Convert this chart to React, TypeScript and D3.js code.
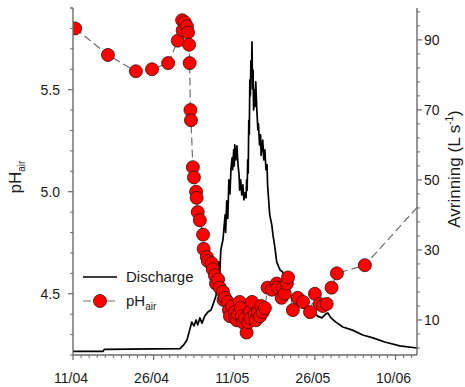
import React from "react";
import * as d3 from "d3";

// x tick labels (dd/mm) and their day offsets from 11/04
const xTickLabels = ["11/04", "26/04", "11/05", "26/05", "10/06"];
const xTickDays = [0, 15, 30, 45, 60];
const leftTicks = [4.5, 5.0, 5.5];
const rightTicks = [10, 30, 50, 70, 90];

// Discharge (L s-1): [day offset from 11/04, value]
const dischargeSeries: [number, number][] = [
  [0, 1.05], [5.6, 1.05], [5.8, 1.6], [19.9, 1.8], [20.6, 2.9], [21.2, 4.3], [21.7, 7.1],
  [22.1, 9.4], [22.5, 8.3], [22.9, 10], [23.2, 8.6], [23.6, 10.6], [24.0, 9.1], [24.5, 11.1],
  [25.1, 12.3], [25.7, 12.9], [26.2, 15.1], [26.6, 16.9], [26.8, 20], [27.1, 26.6], [27.3, 22.9],
  [27.5, 30], [27.9, 32.9], [28.3, 40], [28.4, 35], [28.6, 44], [28.8, 39], [29.0, 50], [29.2, 46],
  [29.4, 53.4], [29.6, 56.3], [29.7, 52.9], [29.9, 58.6], [30.0, 54], [30.1, 60], [30.3, 55.7],
  [30.5, 59.7], [30.7, 54.3], [30.9, 51.4], [31.0, 47.1], [31.2, 50], [31.4, 45.7], [31.6, 48.6],
  [31.8, 44.3], [32.0, 46.3], [32.2, 44.9], [32.3, 50], [32.4, 47], [32.5, 55.7], [32.6, 52],
  [32.7, 67], [32.8, 63], [32.9, 78.6], [33.0, 74], [33.1, 84], [33.2, 80], [33.3, 89.4],
  [33.4, 76], [33.5, 81.4], [33.6, 70], [33.8, 75.7], [33.9, 71], [34.0, 78], [34.2, 70],
  [34.4, 64.3], [34.5, 66], [34.7, 60], [34.9, 62.9], [35.0, 57], [35.1, 58.6], [35.3, 61.4],
  [35.5, 55.7], [35.7, 58.6], [35.9, 52.9], [36.1, 54.3], [36.2, 48.6], [36.4, 44.3], [36.6, 40],
  [37.0, 37], [37.2, 34.3], [37.5, 31.4], [37.9, 26.6], [38.5, 24.3], [39.0, 23.7], [39.4, 22],
  [40.0, 18.6], [40.7, 16.3], [41.4, 14.9], [42.8, 13.4], [44.6, 12.3], [45.5, 11.1], [46.3, 10.6],
  [47.0, 11.7], [47.4, 12], [48.0, 10.6], [48.9, 9.4], [50.2, 8], [52.0, 7.1], [53.9, 5.7],
  [55.8, 4.9], [58.0, 3.7], [60.8, 2.6], [64, 2.0],
];

// pH of air: [day offset from 11/04, value]
const phSeries: [number, number][] = [
  [0.4, 5.80], [6.5, 5.67], [11.7, 5.59], [14.7, 5.60], [17.7, 5.63], [19.5, 5.74],
  [20.3, 5.84], [20.4, 5.79], [20.8, 5.83], [21.2, 5.81], [21.4, 5.78], [21.6, 5.72],
  [21.7, 5.63], [21.85, 5.40], [21.95, 5.35], [22.3, 5.12], [22.5, 5.07], [22.9, 5.00],
  [23.0, 4.97], [23.2, 4.90], [23.6, 4.86], [24.2, 4.79], [24.3, 4.72], [24.9, 4.68],
  [25.1, 4.66], [25.8, 4.65], [26.0, 4.62], [26.4, 4.59], [26.6, 4.55], [27.0, 4.57],
  [27.3, 4.53], [27.9, 4.51], [28.0, 4.47], [28.3, 4.48], [28.8, 4.46], [29.0, 4.42],
  [29.2, 4.39], [29.6, 4.44], [30.1, 4.41], [30.15, 4.38], [30.5, 4.37], [30.7, 4.40],
  [31.0, 4.46], [31.2, 4.43], [31.4, 4.39], [31.6, 4.36], [32.0, 4.38], [32.3, 4.31],
  [32.6, 4.36], [32.9, 4.41], [33.0, 4.38], [33.3, 4.46], [33.8, 4.40], [34.0, 4.37],
  [34.4, 4.41], [34.8, 4.39], [35.0, 4.44], [35.3, 4.41], [35.7, 4.43], [36.2, 4.53],
  [37.0, 4.52], [37.9, 4.55], [38.1, 4.53], [38.8, 4.48], [39.0, 4.53], [39.4, 4.50],
  [39.8, 4.55], [40.0, 4.58], [40.9, 4.42], [41.8, 4.48], [42.8, 4.46], [44.1, 4.41],
  [45.0, 4.50], [45.9, 4.45], [46.5, 4.44], [47.2, 4.45], [48.1, 4.53], [49.1, 4.60],
  [54.3, 4.64], [67.0, 5.01],
];

const FONT = "'Liberation Sans', Arial, Helvetica, sans-serif";
const base = Date.UTC(2013, 3, 11);
const toDate = (d: number) => new Date(base + d * 864e5);

export default function App() {
  const left = 73, right = 417, top = 8, bottom = 355;
  const x = d3.scaleUtc().domain([toDate(0), toDate(64)]).range([left, right]);
  const yL = d3.scaleLinear().domain([4.2, 5.9]).range([bottom, top]);
  const yR = d3.scaleLinear().domain([0, 99.1]).range([bottom, top]);

  const qLine = d3
    .line<[number, number]>()
    .x((d) => x(toDate(d[0])))
    .y((d) => yR(d[1]));
  const phLine = d3
    .line<[number, number]>()
    .x((d) => x(toDate(d[0])))
    .y((d) => yL(d[1]));

  const leftMinor = d3.range(42, 60).map((v) => v / 10).filter((v) => Math.abs(v * 2 - Math.round(v * 2)) > 1e-6);
  const rightMinor = d3.range(2, 99, 4).filter((v) => !rightTicks.includes(v));
  const xMinor = d3.range(0, 64.01, 1.5).filter((v) => !xTickDays.includes(v));

  const axisColor = "#6b6b6b";
  const textColor = "#1a1a1a";

  return (
    <svg
      width={465}
      height={387}
      style={{ position: "absolute", left: 0, top: 0, background: "#fff" }}
      fontFamily={FONT}
    >
      <defs>
        <clipPath id="plotClip">
          <rect x={left} y={0} width={right - left} height={bottom} />
        </clipPath>
      </defs>

      {/* discharge */}
      <path d={qLine(dischargeSeries) || ""} fill="none" stroke="#000" strokeWidth={1.7} strokeLinejoin="round" />

      {/* pH dashed line */}
      <g clipPath="url(#plotClip)">
        <path d={phLine(phSeries) || ""} fill="none" stroke="#707070" strokeWidth={1.2} strokeDasharray="8,4" />
        {phSeries.map((d, i) => (
          <circle key={i} cx={x(toDate(d[0]))} cy={yL(d[1])} r={6.5} fill="#ff0000" stroke="#3a0c0c" strokeWidth={0.8} />
        ))}
      </g>

      {/* axes */}
      <line x1={left} x2={left} y1={top} y2={bottom} stroke={axisColor} strokeWidth={1.4} />
      <line x1={right} x2={right} y1={top} y2={bottom} stroke={axisColor} strokeWidth={1.4} />
      <line x1={left} x2={right} y1={bottom} y2={bottom} stroke={axisColor} strokeWidth={1.4} />

      {/* left ticks */}
      {leftTicks.map((t) => (
        <g key={"l" + t}>
          <line x1={left - 5} x2={left} y1={yL(t)} y2={yL(t)} stroke={axisColor} strokeWidth={1.2} />
          <text x={60} y={yL(t)} dy="0.35em" textAnchor="end" fontSize={14} fill={textColor}>
            {t.toFixed(1)}
          </text>
        </g>
      ))}
      {leftMinor.map((t) => (
        <line key={"lm" + t} x1={left - 3} x2={left} y1={yL(t)} y2={yL(t)} stroke={axisColor} strokeWidth={1} />
      ))}
      {[5.9].map((t) => (
        <line key={"lt" + t} x1={left - 3} x2={left} y1={yL(t)} y2={yL(t)} stroke={axisColor} strokeWidth={1} />
      ))}

      {/* right ticks */}
      {rightTicks.map((t) => (
        <g key={"r" + t}>
          <line x1={right} x2={right + 5} y1={yR(t)} y2={yR(t)} stroke={axisColor} strokeWidth={1.2} />
          <text x={424} y={yR(t)} dy="0.35em" textAnchor="start" fontSize={14} fill={textColor}>
            {t}
          </text>
        </g>
      ))}
      {rightMinor.map((t) => (
        <line key={"rm" + t} x1={right} x2={right + 3} y1={yR(t)} y2={yR(t)} stroke={axisColor} strokeWidth={1} />
      ))}

      {/* bottom ticks */}
      {xTickDays.map((t, i) => (
        <g key={"x" + t}>
          <line x1={x(toDate(t))} x2={x(toDate(t))} y1={bottom} y2={bottom + 5} stroke={axisColor} strokeWidth={1.2} />
          <text x={x(toDate(t)) - 2} y={383} textAnchor="middle" fontSize={14} fill={textColor}>
            {xTickLabels[i]}
          </text>
        </g>
      ))}
      {xMinor.map((t) => (
        <line key={"xm" + t} x1={x(toDate(t))} x2={x(toDate(t))} y1={bottom} y2={bottom + 3} stroke={axisColor} strokeWidth={1} />
      ))}

      {/* axis titles */}
      <text transform="translate(21,177) rotate(-90)" textAnchor="middle" fontSize={17} fill={textColor}>
        pH<tspan fontSize={10} dy={4}>air</tspan>
      </text>
      <text transform="translate(460,169) rotate(-90)" textAnchor="middle" fontSize={17} fill={textColor}>
        Avrinning (L s<tspan fontSize={10} dy={-7}>-1</tspan>
        <tspan dy={7}>)</tspan>
      </text>

      {/* legend */}
      <line x1={83} x2={117} y1={277} y2={277} stroke="#000" strokeWidth={1.7} />
      <text x={126} y={277} dy="0.35em" fontSize={15} fill={textColor}>
        Discharge
      </text>
      <line x1={83} x2={117} y1={301} y2={301} stroke="#707070" strokeWidth={1.2} strokeDasharray="8,4" />
      <circle cx={100} cy={301} r={6.5} fill="#ff0000" stroke="#3a0c0c" strokeWidth={0.8} />
      <text x={126} y={301} dy="0.35em" fontSize={15} fill={textColor}>
        pH<tspan fontSize={10} dy={4}>air</tspan>
      </text>
    </svg>
  );
}
